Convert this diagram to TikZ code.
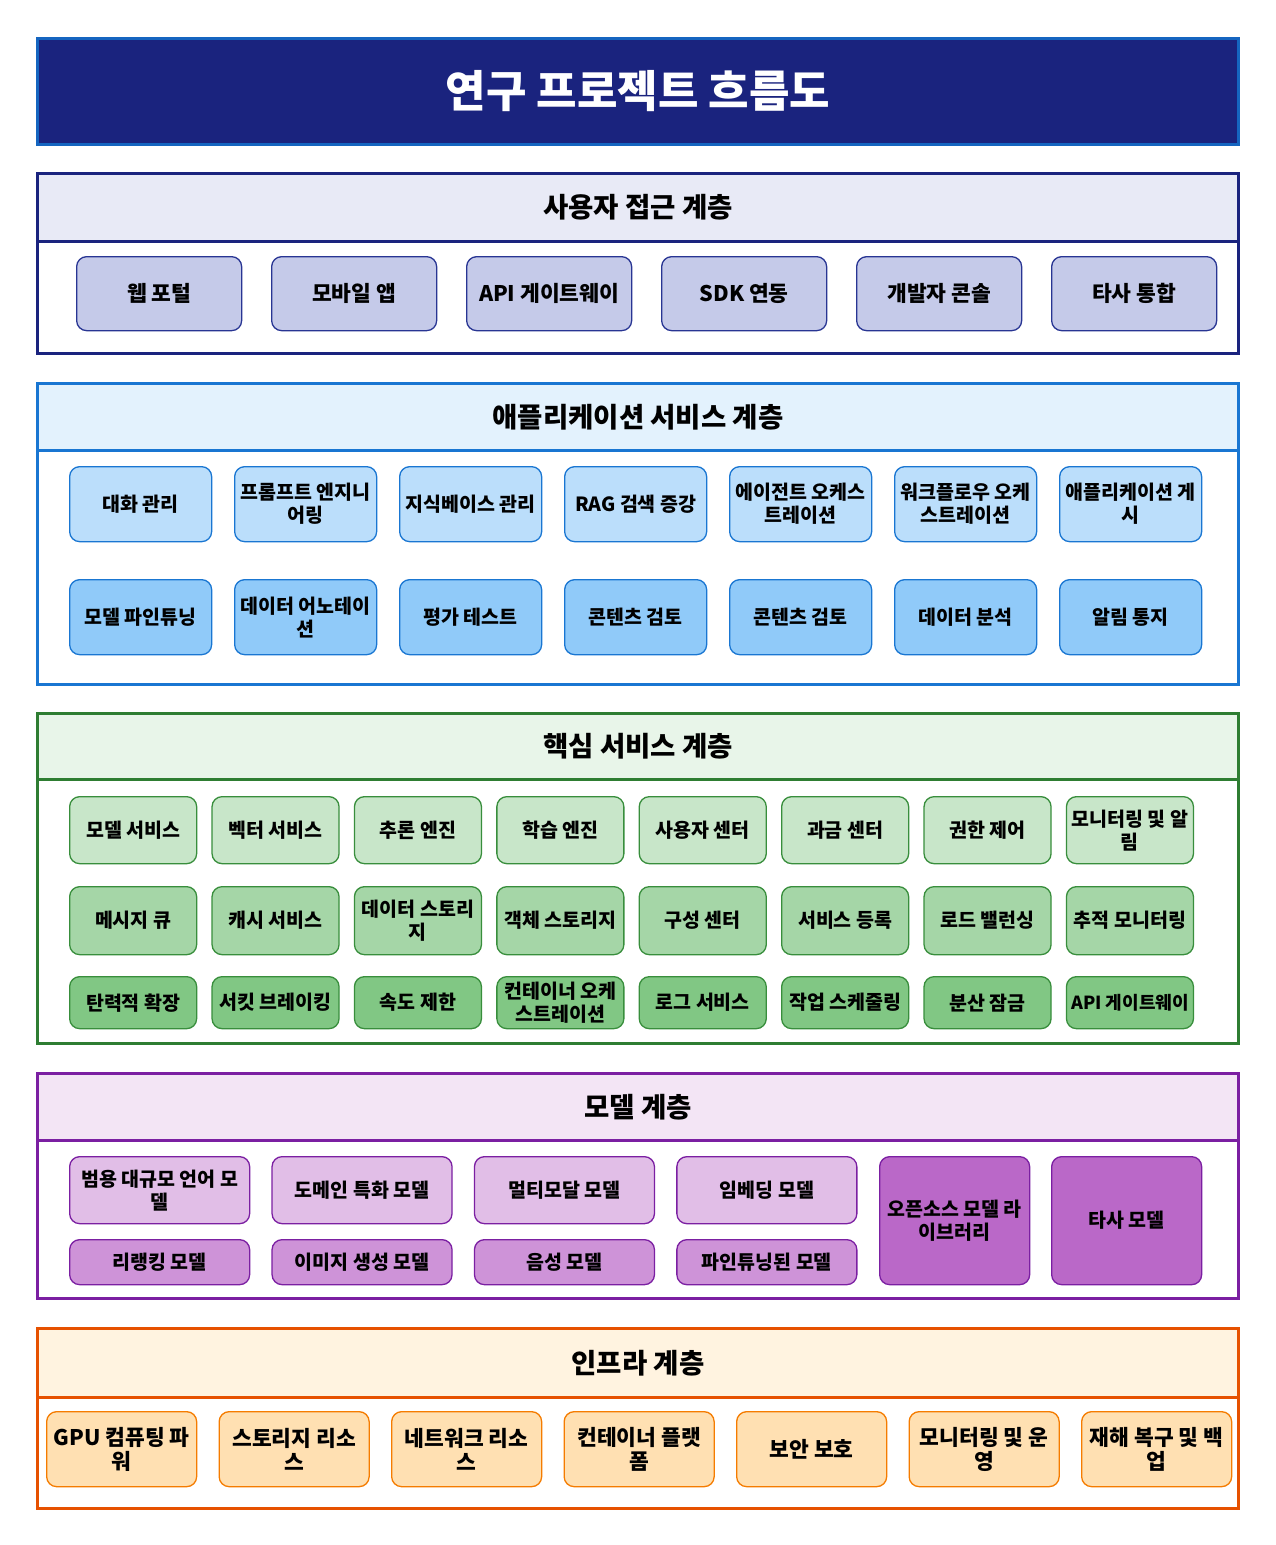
\documentclass[tikz,border=0pt]{standalone}
\usepackage{fontspec}
\setmainfont{Noto Sans CJK KR}
\definecolor{tnavy}{HTML}{1A237E}
\definecolor{tblue}{HTML}{1565C0}
\definecolor{aHead}{HTML}{E8EAF6}
\definecolor{aBox}{HTML}{C5CAE9}
\definecolor{aLine}{HTML}{283593}
\definecolor{bLine}{HTML}{1976D2}
\definecolor{bHead}{HTML}{E3F2FD}
\definecolor{bOne}{HTML}{BBDEFB}
\definecolor{bTwo}{HTML}{90CAF9}
\definecolor{cLine}{HTML}{388E3C}
\definecolor{cFrame}{HTML}{2E7D32}
\definecolor{cHead}{HTML}{E8F5E9}
\definecolor{cOne}{HTML}{C8E6C9}
\definecolor{cTwo}{HTML}{A5D6A7}
\definecolor{cThree}{HTML}{81C784}
\definecolor{dLine}{HTML}{7B1FA2}
\definecolor{dHead}{HTML}{F3E5F5}
\definecolor{dOne}{HTML}{E1BEE7}
\definecolor{dTwo}{HTML}{CE93D8}
\definecolor{dBig}{HTML}{BA68C8}
\definecolor{eFrame}{HTML}{E65100}
\definecolor{eLine}{HTML}{F57C00}
\definecolor{eHead}{HTML}{FFF3E0}
\definecolor{eBox}{HTML}{FFE0B2}
\tikzset{
  frame/.style={draw=#1, line width=2.5pt, fill=white, minimum width=1201pt, inner sep=0pt, anchor=north},
  header/.style={draw=#1, line width=2.5pt, minimum width=1201pt, minimum height=68pt, inner sep=0pt, anchor=north, font=\bfseries\fontsize{27.5}{31}\selectfont},
  cell/.style={draw=#1, line width=1.3pt, rounded corners=10pt, inner sep=0pt, align=center, anchor=north west},
  fa/.style={font=\bfseries\fontsize{21.5}{24}\selectfont},
  fb/.style={font=\bfseries\fontsize{19.5}{23}\selectfont},
}
\begin{document}
\begin{tikzpicture}[x=1pt,y=-1pt]
\useasboundingbox (0,0) rectangle (1275,1545);
% title
\node[draw=tblue, line width=3pt, fill=tnavy, minimum width=1201pt, minimum height=106pt, inner sep=0pt, anchor=north,
      text=white, font=\bfseries\fontsize{44}{50}\selectfont] (title) at (638,37) {연구 프로젝트 흐름도};

% ---------- layer 1
\node[frame=tnavy, minimum height=180pt] (L1) at (638,172) {};
\node[header=tnavy, fill=aHead] (L1h) at (638,172) {사용자 접근 계층};
\foreach \t [count=\i from 0] in {웹 포털,모바일 앱,API 게이트웨이,SDK 연동,개발자 콘솔,타사 통합}
  \node[cell=aLine, fill=aBox, fa, minimum width=165pt, minimum height=74pt] (u\i) at (76+195*\i,256) {\t};

% ---------- layer 2
\node[frame=bLine, minimum height=301pt] (L2) at (638,382) {};
\node[header=bLine, fill=bHead, minimum height=67pt] (L2h) at (638,382) {애플리케이션 서비스 계층};
\foreach \t [count=\i from 0] in {대화 관리,{프롬프트 엔지니\\어링},지식베이스 관리,RAG 검색 증강,{에이전트 오케스\\트레이션},{워크플로우 오케\\스트레이션},{애플리케이션 게\\시}}
  \node[cell=bLine, fill=bOne, fb, minimum width=142pt, minimum height=75pt] (p\i) at (69+165*\i,466) {\t};
\foreach \t [count=\i from 0] in {모델 파인튜닝,{데이터 어노테이\\션},평가 테스트,콘텐츠 검토,콘텐츠 검토,데이터 분석,알림 통지}
  \node[cell=bLine, fill=bTwo, fb, minimum width=142pt, minimum height=75pt] (q\i) at (69+165*\i,579) {\t};

% ---------- layer 3
\node[frame=cFrame, minimum height=330pt] (L3) at (638,712) {};
\node[header=cFrame, fill=cHead, minimum height=66pt] (L3h) at (638,712) {핵심 서비스 계층};
\foreach \t [count=\i from 0] in {모델 서비스,벡터 서비스,추론 엔진,학습 엔진,사용자 센터,과금 센터,권한 제어,{모니터링 및 알\\림}}
  \node[cell=cLine, fill=cOne, fb, minimum width=127pt, minimum height=67pt] (r\i) at (69+142.4*\i,796) {\t};
\foreach \t [count=\i from 0] in {메시지 큐,캐시 서비스,{데이터 스토리\\지},객체 스토리지,구성 센터,서비스 등록,로드 밸런싱,추적 모니터링}
  \node[cell=cLine, fill=cTwo, fb, minimum width=127pt, minimum height=68pt] (s\i) at (69+142.4*\i,886) {\t};
\foreach \t [count=\i from 0] in {탄력적 확장,서킷 브레이킹,속도 제한,{컨테이너 오케\\스트레이션},로그 서비스,작업 스케줄링,분산 잠금}
  \node[cell=cLine, fill=cThree, fb, minimum width=127pt, minimum height=52pt] (t\i) at (69+142.4*\i,976) {\t};
\node[cell=cLine, fill=cThree, font=\bfseries\fontsize{18}{23}\selectfont, minimum width=127pt, minimum height=52pt] (t7) at (69+142.4*7,976) {API 게이트웨이};

% ---------- layer 4
\node[frame=dLine, minimum height=225pt] (L4) at (638,1072) {};
\node[header=dLine, fill=dHead, minimum height=67pt] (L4h) at (638,1072) {모델 계층};
\foreach \t [count=\i from 0] in {{범용 대규모 언어 모\\델},도메인 특화 모델,멀티모달 모델,임베딩 모델}
  \node[cell=dLine, fill=dOne, fb, minimum width=180pt, minimum height=67pt] (m\i) at (69+202.4*\i,1156) {\t};
\foreach \t [count=\i from 0] in {리랭킹 모델,이미지 생성 모델,음성 모델,파인튜닝된 모델}
  \node[cell=dLine, fill=dTwo, fb, minimum width=180pt, minimum height=45pt] (n\i) at (69+202.4*\i,1239) {\t};
\node[cell=dLine, fill=dBig, fb, minimum width=150pt, minimum height=128pt] (oss) at (879,1156) {오픈소스 모델 라\\이브러리};
\node[cell=dLine, fill=dBig, fb, minimum width=150pt, minimum height=128pt] (third) at (1051,1156) {타사 모델};

% ---------- layer 5
\node[frame=eFrame, minimum height=180pt] (L5) at (638,1327) {};
\node[header=eFrame, fill=eHead, minimum height=69pt] (L5h) at (638,1327) {인프라 계층};
\foreach \t [count=\i from 0] in {{GPU 컴퓨팅 파\\워},{스토리지 리소\\스},{네트워크 리소\\스},{컨테이너 플랫\\폼},보안 보호,{모니터링 및 운\\영},{재해 복구 및 백\\업}}
  \node[cell=eLine, fill=eBox, fa, minimum width=150pt, minimum height=75pt] (i\i) at (46+172.5*\i,1411) {\t};
\end{tikzpicture}
\end{document}
